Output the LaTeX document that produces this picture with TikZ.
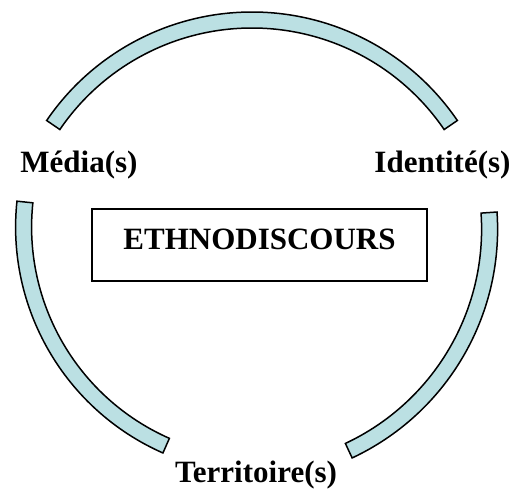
\documentclass[tikz,border=0pt]{standalone}
\usepackage{fontspec}
\setmainfont{Liberation Serif}
\usetikzlibrary{calc}
\definecolor{bandblue}{RGB}{187,224,227}

\begin{document}
\begin{tikzpicture}[x=1pt,y=1pt,every node/.style={outer sep=0pt},
 band/.style={draw,line width=1.5pt,fill=bandblue},
 word/.style={font=\fontsize{31}{37}\selectfont\bfseries,anchor=base,inner sep=0pt},
 frame/.style={draw,line width=2pt,minimum width=335pt,minimum height=72pt,
 text height=20.5pt,text depth=10.5pt,inner sep=0pt,
 font=\fontsize{31}{37}\selectfont\bfseries}]
  \useasboundingbox (0,0) rectangle (512,489);

  \node[frame] (core) at (259.5,244) {ETHNODISCOURS};

  \node[word] (media) at (79,316) {Média(s)};
  \node[word] (identite) at (442.5,316) {Identité(s)};
  \node[word] (territoire) at (256,6) {Territoire(s)};

  % three bands round the box
  \foreach \N/\X/\Y/\A/\B/\R in {top/252/228.4/34.3/145.7/248.6,
    left/262.6/262/174/246.2/247,right/245/259.8/-64.9/3.9/252.6}
  {\coordinate (c\N) at (\X,\Y);
   \draw[band] ($(c\N)+(\A:{\R*1pt})$) arc[start angle=\A,end angle=\B,radius={\R*1pt}]
     -- ($(c\N)+(\B:{(\R-16)*1pt})$) arc[start angle=\B,end angle=\A,radius={(\R-16)*1pt}]
     -- cycle;
  }

\end{tikzpicture}
\end{document}
